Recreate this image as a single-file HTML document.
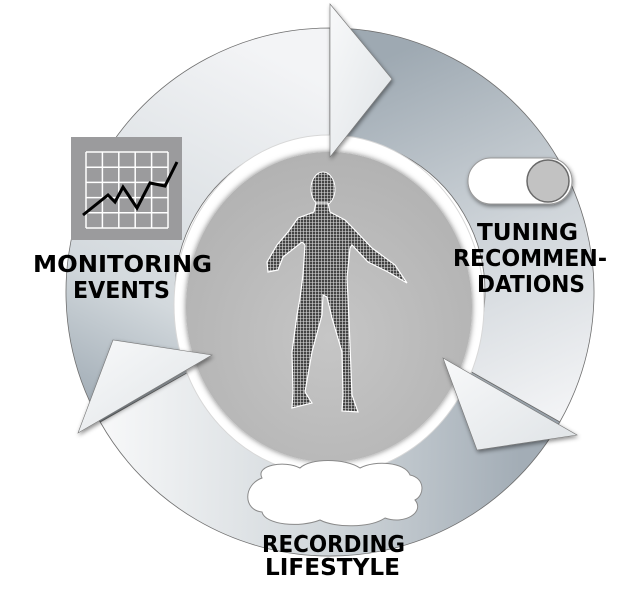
<!DOCTYPE html>
<html><head><meta charset="utf-8"><style>html,body{margin:0;padding:0;background:#fff}svg{display:block}</style></head>
<body>
<svg width="632" height="596" viewBox="0 0 632 596" xmlns="http://www.w3.org/2000/svg">
<defs>
<linearGradient id="gTop" gradientUnits="userSpaceOnUse" x1="90" y1="430" x2="280" y2="60">
<stop offset="0" stop-color="#9aa6b0"/><stop offset="0.35" stop-color="#d3d9dd"/><stop offset="1" stop-color="#f3f4f6"/></linearGradient>
<linearGradient id="gRight" gradientUnits="userSpaceOnUse" x1="380" y1="60" x2="540" y2="420">
<stop offset="0" stop-color="#9ea9b2"/><stop offset="0.5" stop-color="#cdd3d8"/><stop offset="1" stop-color="#f2f3f5"/></linearGradient>
<linearGradient id="gLeft" gradientUnits="userSpaceOnUse" x1="520" y1="430" x2="110" y2="420">
<stop offset="0" stop-color="#a3adb6"/><stop offset="0.45" stop-color="#d0d6da"/><stop offset="1" stop-color="#f6f7f8"/></linearGradient>
<linearGradient id="gHead" x1="0" y1="0" x2="1" y2="1">
<stop offset="0" stop-color="#f8f9fa"/><stop offset="1" stop-color="#dfe3e6"/></linearGradient>
<radialGradient id="gDisc" cx="0.5" cy="0.6" r="0.6">
<stop offset="0" stop-color="#c6c6c6"/><stop offset="1" stop-color="#b2b2b2"/></radialGradient>
<filter id="sh" x="-20%" y="-20%" width="140%" height="140%"><feDropShadow dx="1" dy="2" stdDeviation="2" flood-color="#000" flood-opacity="0.45"/></filter>
<filter id="sh2" x="-10%" y="-10%" width="120%" height="120%"><feDropShadow dx="0" dy="0" stdDeviation="3" flood-color="#000" flood-opacity="0.5"/></filter>
<pattern id="mesh" width="3" height="3" patternUnits="userSpaceOnUse">
<rect width="3" height="3" fill="#444"/><path d="M0 0.5H3M0.5 0V3" stroke="#dcdcdc" stroke-width="0.6"/></pattern>
</defs>

<!-- shafts -->
<path d="M100.2,422 A264,264 0 0 1 330,28 L330,137 A155,155 0 0 0 195.1,368.3 Z" fill="url(#gTop)" stroke="#6f6f6f" stroke-width="0.8"/>
<path d="M330,28 A264,264 0 0 1 559.8,422 L464.9,368.3 A155,155 0 0 0 330,137 Z" fill="url(#gRight)" stroke="#6f6f6f" stroke-width="0.8"/>
<path d="M559.8,422 A264,264 0 0 1 100.2,422 L195.1,368.3 A155,155 0 0 0 464.9,368.3 Z" fill="url(#gLeft)" stroke="#6f6f6f" stroke-width="0.8"/>

<!-- center -->
<ellipse cx="329" cy="305" rx="155" ry="170" fill="#fff" stroke="#d8d8d8" stroke-width="1"/>
<ellipse cx="329" cy="307" rx="143" ry="155" fill="url(#gDisc)" filter="url(#sh2)"/>

<!-- heads -->
<polygon points="330,4 392,79 330,157" fill="url(#gHead)" stroke="#777" stroke-width="0.6" filter="url(#sh)"/>
<polygon points="443,358 577,435 477,450" fill="url(#gHead)" stroke="#777" stroke-width="0.6" filter="url(#sh)"/>
<polygon points="78,433 113,340 212,355" fill="url(#gHead)" stroke="#777" stroke-width="0.6" filter="url(#sh)"/>

<!-- figure -->
<g>
<ellipse cx="323" cy="189" rx="12" ry="17" fill="url(#mesh)" stroke="#fff" stroke-width="1"/>
<path d="M316,203 L328,203 L330,212 L345,220 L352,227 L372,248 L395,265 L407,283 L400,279 L388,272 L368,262 L352,245 L350,248 L347,278 L348,298 L350,345 L352,395 L358,412 L342,411 L343,395 L342,352 L332,318 L327,297 L323,295 L322,315 L312,352 L305,392 L312,403 L292,408 L293,392 L292,352 L297,315 L300,298 L303,275 L305,245 L302,242 L283,257 L278,270 L268,272 L267,262 L277,245 L288,232 L298,218 L314,212 Z" fill="url(#mesh)" stroke="#fff" stroke-width="1.2"/>
</g>

<!-- chart icon -->
<rect x="71" y="137" width="111" height="103" fill="#9b9b9d"/>
<g stroke="#fff" stroke-width="1.5">
<path d="M86,152V228M102.4,152V228M118.8,152V228M135.2,152V228M151.6,152V228M168,152V228"/>
<path d="M86,152H168M86,167.2H168M86,182.4H168M86,197.6H168M86,212.8H168M86,228H168"/>
</g>
<polyline points="83,215 108,195 115,202 123,187 137,208 150,183 165,186 177,162" fill="none" stroke="#000" stroke-width="3"/>

<!-- toggle -->
<rect x="468" y="158" width="104" height="46" rx="23" fill="#fff" stroke="#999" stroke-width="1" filter="url(#sh)"/>
<circle cx="548" cy="181" r="21" fill="#c2c2c2" stroke="#6a6a6a" stroke-width="1.5"/>

<!-- cloud -->
<path d="M262,478 C255,465 285,460 300,468 C310,458 345,458 360,468 C375,460 405,462 410,475 C425,478 425,495 415,500 C425,512 405,525 385,518 C370,528 335,528 320,520 C300,528 265,525 262,512 C243,510 243,485 262,478 Z" fill="#fff" stroke="#8a8a8a" stroke-width="1"/>

<!-- labels -->
<g font-family="'DejaVu Sans', 'Liberation Sans', sans-serif" font-weight="bold" font-size="23" fill="#000">
<text x="33" y="272" textLength="179" lengthAdjust="spacingAndGlyphs">MONITORING</text>
<text x="73" y="298" textLength="97" lengthAdjust="spacingAndGlyphs">EVENTS</text>
<text x="477" y="240" textLength="101" lengthAdjust="spacingAndGlyphs">TUNING</text>
<text x="453" y="266" textLength="154" lengthAdjust="spacingAndGlyphs">RECOMMEN-</text>
<text x="477" y="292" textLength="108" lengthAdjust="spacingAndGlyphs">DATIONS</text>
<text x="262" y="552" textLength="143" lengthAdjust="spacingAndGlyphs">RECORDING</text>
<text x="265" y="575" textLength="135" lengthAdjust="spacingAndGlyphs">LIFESTYLE</text>
</g>
</svg>
</body></html>
